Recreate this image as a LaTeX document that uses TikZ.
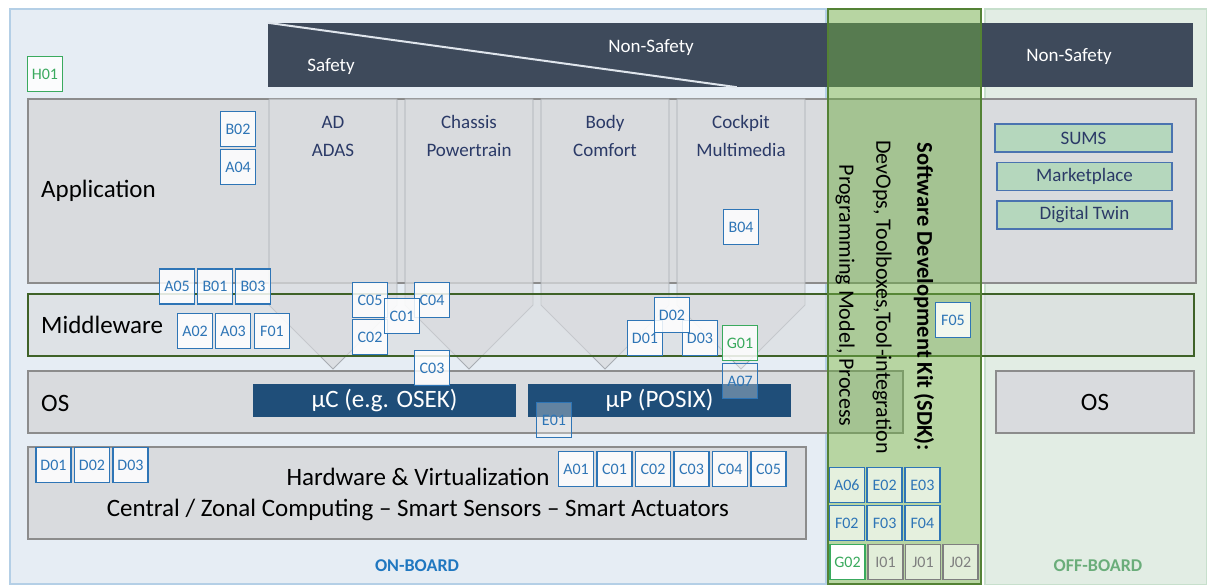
\documentclass[tikz,border=0pt]{standalone}
\usepackage{fontspec}
\setmainfont{Carlito}
\usepackage{tikz}

\definecolor{onboard}{HTML}{E6EDF4}
\definecolor{onboardline}{HTML}{B4CFE6}
\definecolor{offboard}{HTML}{E2EDE4}
\definecolor{offboardline}{HTML}{C7DFCC}
\definecolor{barfill}{HTML}{3E4A5B}
\definecolor{barline}{HTML}{DFE5EC}
\definecolor{layerfill}{HTML}{D9DBDE}
\definecolor{layerline}{HTML}{8C8C8C}
\definecolor{funnelline}{HTML}{A8ACB2}
\definecolor{mwline}{HTML}{3F6228}
\definecolor{osblue}{HTML}{1F4E79}
\definecolor{domaintext}{HTML}{2B3A67}
\definecolor{tagblue}{HTML}{2E75B6}
\definecolor{taggreen}{HTML}{3AAA5E}
\definecolor{taggray}{HTML}{7F7F7F}
\definecolor{sdkgreen}{HTML}{70AD47}
\definecolor{sdkline}{HTML}{548235}
\definecolor{servicefill}{HTML}{B5D7BD}
\definecolor{serviceline}{HTML}{4A73B0}
\definecolor{onboardtext}{HTML}{1F77C0}
\definecolor{offboardtext}{HTML}{6AAD7A}

\begin{document}
\begin{tikzpicture}[x=1pt,y=-1pt,
	zone/.style={line width=2pt,inner sep=0pt},
	layer/.style={draw=layerline,fill=layerfill,line width=1.5pt,inner sep=0pt},
	layername/.style={anchor=west,inner sep=0pt,text=black,font=\fontsize{25}{30}\selectfont},
	funnel/.style={draw=funnelline,fill=layerfill,fill opacity=0.75,line width=0.8pt},
	domainlabel/.style={text=domaintext,align=center,font=\fontsize{19}{28}\selectfont},
	oscore/.style={fill=osblue,text=white,minimum width=263,minimum height=33,inner sep=0pt,font=\fontsize{25}{30}\selectfont},
	bartext/.style={text=white,font=\fontsize{19}{22}\selectfont},
	tag/.style={draw=tagblue,text=tagblue,fill=white,fill opacity=0.85,text opacity=1,line width=1.3pt,minimum width=35,minimum height=35,inner sep=0pt,font=\fontsize{16}{16}\selectfont},
	gtag/.style={tag,draw=taggreen,text=taggreen},
	greytag/.style={tag,draw=taggray,text=taggray,fill opacity=0.6},
	ghosttag/.style={tag,fill opacity=0.3},
	service/.style={draw=serviceline,fill=servicefill,text=domaintext,line width=1.2pt,minimum width=175,minimum height=28,inner sep=0pt,font=\fontsize{19}{22}\selectfont},
	sdktext/.style={rotate=-90,text=black,font=\fontsize{22}{26}\selectfont},
	zonetext/.style={font=\fontsize{18}{22}\selectfont\bfseries}
]
	\useasboundingbox[fill=white] (0,0) rectangle (1207,585);

	% zones
	\node[zone,draw=onboardline,fill=onboard,minimum width=816,minimum height=575] (onboard) at (418,296.5) {};
	\node[zone,draw=offboardline,fill=offboard,minimum width=222,minimum height=576] (offboard) at (1096,297) {};

	% safety bar
	\node[fill=barfill,minimum width=925,minimum height=64,inner sep=0pt] (bar) at (730.5,55) {};
	\draw[draw=barline,line width=2pt] (bar.north west) -- ([xshift=469pt]bar.south west);
	\node[bartext] (safety) at (331,67) {Safety};
	\node[bartext] (nonsafety) at (651,48) {Non-Safety};
	\node[bartext] (nonsafetyoff) at (1069,57) {Non-Safety};

	% layers
	\node[layer,minimum width=1168,minimum height=184] (app) at (612,191) {};
	\node[layername] (applabel) at (41,191) {Application};
	\foreach \x/\a/\b [count=\i] in {269/AD/ADAS,405/Chassis/Powertrain,541/Body/Comfort,677/Cockpit/Multimedia}{
		\draw[funnel] (\x,99) -- (\x,305) -- (\x+64,369) -- (\x+128,305) -- (\x+128,99) -- cycle;
		\node[domainlabel] (dom\i) at (\x+64,136) {\a\\\b};
	}
	\node[layer,draw=mwline,fill opacity=0.6,minimum width=1166,minimum height=62] (mw) at (611,325) {};
	\node[layername] (mwlabel) at (41,325) {Middleware};
	\node[layer,minimum width=875,minimum height=62] (os) at (465.5,402) {};
	\node[layername] (oslabel) at (41,403) {OS};
	\node[oscore] (uc) at (384.5,400.5) {µC (e.g. OSEK)};
	\node[oscore] (up) at (659.5,400.5) {µP (POSIX)};
	\node[layer,minimum width=778,minimum height=92] (hw) at (417,493) {};
	\node[align=center,font=\fontsize{25}{31}\selectfont] (hwlabel) at (418,494) {Hardware \& Virtualization\\Central / Zonal Computing – Smart Sensors – Smart Actuators};
	\node[layer,minimum width=198,minimum height=62,font=\fontsize{25}{30}\selectfont] (osoff) at (1095,402) {OS};

	% off-board services
	\node[service,minimum width=177] (sums) at (1083.5,138) {SUMS};
	\node[service] (market) at (1084.5,176.5) {Marketplace};
	\node[service] (twin) at (1084.5,215) {Digital Twin};

	% sdk column
	\node[draw=sdkline,fill=sdkgreen,fill opacity=0.5,line width=2.5pt,minimum width=153,minimum height=575] (sdk) at (904.5,296.5) {};
	\node[sdktext,font=\fontsize{22.5}{26}\selectfont\bfseries] (sdktitle) at (924,297) {Software Development Kit (SDK):};
	\node[sdktext] (sdktools) at (882,297) {DevOps, Toolboxes,Tool-integration};
	\node[sdktext] (sdkmodel) at (845,295.5) {Programming Model, Process};

	% tags
	\node[gtag] (h01) at (45,74) {H01};
	\node[tag] (b02) at (238,129) {B02};
	\node[tag] (a04) at (238,167) {A04};
	\node[tag] (b04) at (741,227) {B04};
	\node[tag] (a05) at (177,286.5) {A05};
	\node[tag] (b01) at (215,286.5) {B01};
	\node[tag] (b03) at (253,286.5) {B03};
	\node[tag] (a02) at (195,331) {A02};
	\node[tag] (a03) at (233,331) {A03};
	\node[tag] (f01) at (272,331) {F01};
	\node[tag] (mwc05) at (370,300) {C05};
	\node[tag] (mwc02) at (370,337) {C02};
	\node[tag] (mwc04) at (432,300) {C04};
	\node[tag] (mwc01) at (402,316) {C01};
	\node[tag] (mwc03) at (432,368) {C03};
	\node[tag] (mwd01) at (645,338) {D01};
	\node[tag] (mwd03) at (700,338) {D03};
	\node[tag] (mwd02) at (672,315) {D02};
	\node[gtag] (g01) at (740,343) {G01};
	\node[ghosttag] (a07) at (740,381) {A07};
	\node[ghosttag] (e01) at (554,420) {E01};
	\node[tag] (f05) at (953,320) {F05};
	\foreach \n [count=\i] in {D01,D02,D03}
		\node[tag] (hw\n) at (15+38.5*\i,465) {\n};
	\node[tag] (hwa01) at (576,469) {A01};
	\foreach \n [count=\i] in {C01,C02,C03,C04,C05}
		\node[tag] (hw\n) at (576+38.5*\i,469) {\n};
	\foreach \n [count=\i] in {A06,E02,E03}
		\node[tag,fill opacity=0.65] (sdk\n) at (809+37.8*\i,485) {\n};
	\foreach \n [count=\i] in {F02,F03,F04}
		\node[tag,fill opacity=0.65] (sdk\n) at (809+37.8*\i,523) {\n};
	\node[gtag,fill opacity=1] (g02) at (847.5,562) {G02};
	\foreach \n [count=\i] in {I01,J01,J02}
		\node[greytag] (sdk\n) at (848+37.5*\i,562) {\n};

	% zone labels
	\node[zonetext,text=onboardtext] (onlabel) at (417,566) {ON-BOARD};
	\node[zonetext,text=offboardtext] (offlabel) at (1098,566) {OFF-BOARD};
\end{tikzpicture}
\end{document}
